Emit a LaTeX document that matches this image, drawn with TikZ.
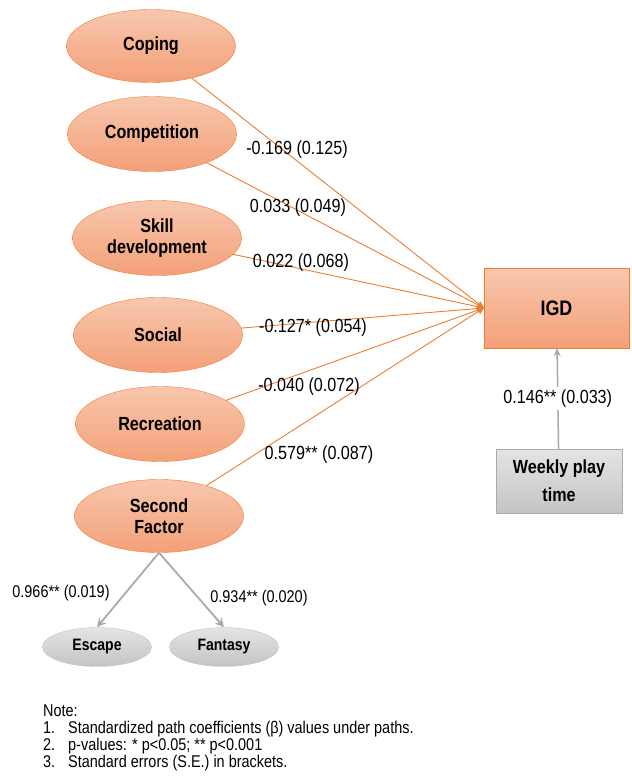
\documentclass[tikz,border=0pt]{standalone}
\usepackage{fontspec}
\setmainfont{Liberation Sans}[FakeStretch=0.85]
\usetikzlibrary{
    arrows.meta,
    shapes.geometric,
}
\definecolor{motorange}{RGB}{237,125,49}
\definecolor{motlight}{RGB}{248,199,174}
\definecolor{motdark}{RGB}{243,160,120}
\definecolor{graydraw}{RGB}{170,170,170}
\definecolor{graylight}{RGB}{228,228,228}
\definecolor{graydark}{RGB}{196,196,196}
\tikzset{
    % Node styles
    motive/.style={ellipse, draw=motorange, top color=motlight, bottom color=motdark,
                   minimum width=169pt, minimum height=75pt, inner sep=0pt, align=center,
                   font=\fontsize{19}{21.5}\selectfont\bfseries},
    facet/.style={ellipse, draw=graydark, top color=graylight, bottom color=graydark,
                  minimum width=109pt, minimum height=39pt, inner sep=0pt,
                  font=\fontsize{16.5}{18}\selectfont\bfseries},
    outcome/.style={rectangle, draw=motorange, top color=motlight, bottom color=motdark,
                    minimum width=145pt, minimum height=80pt,
                    font=\fontsize{21}{24}\selectfont\bfseries},
    covar/.style={rectangle, draw=graydraw, top color=graylight, bottom color=graydark,
                  minimum width=126pt, minimum height=64pt, align=center,
                  font=\fontsize{19}{28}\selectfont\bfseries},
    % Arrow styles
    path arrow/.style={-{Stealth[length=7pt, width=7pt]}, motorange, line width=0.9pt},
    load arrow/.style={-{Stealth[length=9pt, width=9pt]}, graydraw, line width=1.8pt},
    % Annotation styles
    coef/.style={font=\fontsize{19}{20}\selectfont, text=black, inner sep=1pt},
    load coef/.style={font=\fontsize{17}{19}\selectfont, text=black, inner sep=1pt},
}

\begin{document}
\begin{tikzpicture}[x=1pt, y=-1pt]
    \useasboundingbox (0, 0) rectangle (631, 783);

    % Motives
    \node[motive, minimum height=73pt] (coping) at (151, 46) {Coping};
    \node[motive] (competition) at (152, 134) {Competition};
    \node[motive] (skill) at (157, 238) {Skill\\development};
    \node[motive] (social) at (158, 335) {Social};
    \node[motive] (recreation) at (160, 424) {Recreation};
    \node[motive, minimum height=73pt] (second) at (159, 516) {Second\\Factor};

    % First-order factors
    \node[facet] (escape) at (97, 647) {Escape};
    \node[facet] (fantasy) at (224, 647) {Fantasy};

    % Outcome and covariate
    \node[outcome] (igd) at (556.5, 308) {IGD};
    \node[covar] (weekly) at (559, 481) {Weekly play\\time};

    % Paths
    \foreach \m in {coping, competition, skill, social, recreation, second}
        \draw[path arrow] (\m) -- (igd.west);
    \draw[load arrow] (second.south) -- (escape.north);
    \draw[load arrow] (second.south) -- (fantasy.north);
    \draw[load arrow, line width=1.5pt, -{Stealth[length=8pt, width=7pt]}] (weekly)
        -- node[coef, fill=white, inner sep=3pt] {0.146** (0.033)} (igd);

    % Coefficients
    \node[coef] (c1) at (297, 150) {-0.169 (0.125)};
    \node[coef] (c2) at (298, 208) {0.033 (0.049)};
    \node[coef] (c3) at (301, 263) {0.022 (0.068)};
    \node[coef] (c4) at (313, 328) {-0.127* (0.054)};
    \node[coef] (c5) at (309, 387) {-0.040 (0.072)};
    \node[coef] (c6) at (319, 455) {0.579** (0.087)};
    \node[load coef] (l1) at (61, 593) {0.966** (0.019)};
    \node[load coef] (l2) at (259, 598) {0.934** (0.020)};

    % Note
    \node[anchor=north west, inner sep=0pt, align=left,
          font=\fontsize{17}{17}\selectfont] (note) at (43, 705)
        {Note:\\
         \makebox[25pt][l]{1.}Standardized path coefficients (β) values under paths.\\
         \makebox[25pt][l]{2.}p-values: * p<0.05; ** p<0.001\\
         \makebox[25pt][l]{3.}Standard errors (S.E.) in brackets.};
\end{tikzpicture}
\end{document}
